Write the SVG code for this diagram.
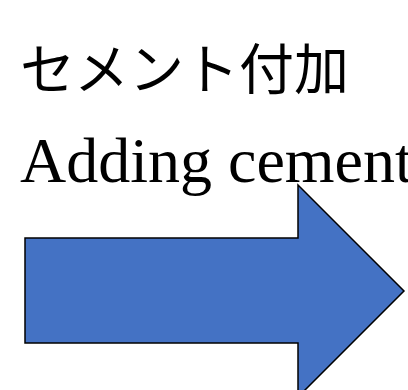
<svg xmlns="http://www.w3.org/2000/svg" width="408" height="390" viewBox="0 0 408 390">
<style>
.jp{font-family:"Noto Sans CJK JP","Noto Sans",sans-serif;font-size:55px;fill:#000}
.en{font-family:"Liberation Serif","Times New Roman",serif;font-size:64px;fill:#000}
.arrow{fill:#4472C4;stroke:#000;stroke-width:1.5}
</style>
<rect width="408" height="390" fill="#fff"/>
<g id="title-jp"><text class="jp" x="20" y="89">セメント付加</text></g>
<g id="title-en"><text class="en" x="20" y="182">Adding cement</text></g>
<g id="arrow"><polygon class="arrow" points="25,238 298,238 298,185 404,291 298,397 298,343 25,343"/></g>
</svg>
